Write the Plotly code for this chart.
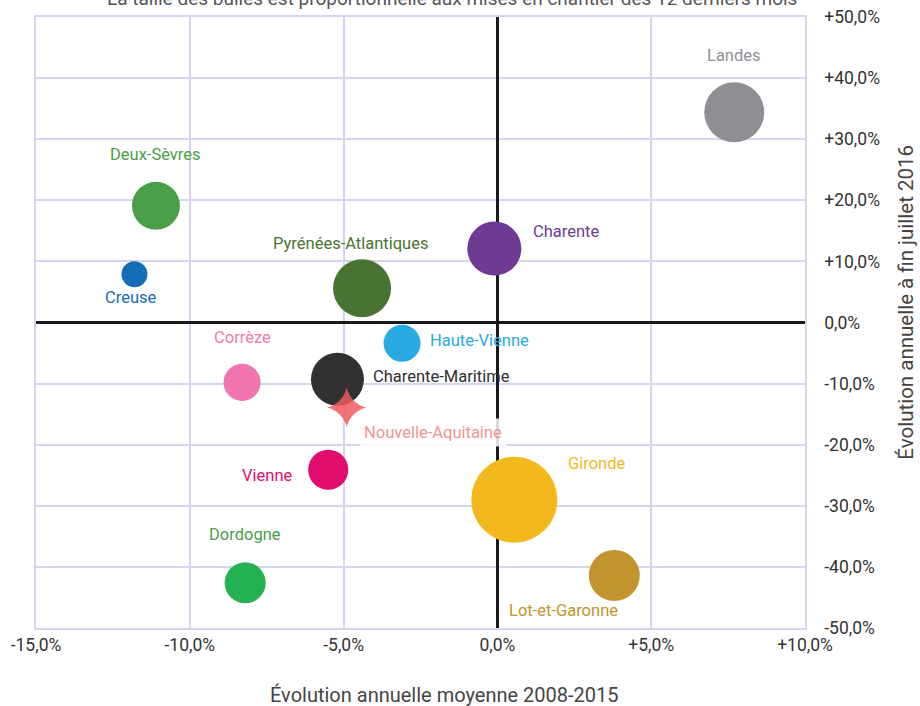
import plotly.graph_objects as go

departements = ["Landes", "Deux-Sèvres", "Creuse", "Pyrénées-Atlantiques", "Charente",
                "Haute-Vienne", "Corrèze", "Charente-Maritime", "Vienne", "Gironde",
                "Dordogne", "Lot-et-Garonne"]
evol_2008_2015 = [7.7, -11.1, -11.8, -4.4, -0.1, -3.1, -8.3, -5.2, -5.5, 0.55, -8.2, 3.8]
evol_juillet_2016 = [34.4, 19.1, 7.9, 5.6, 12.1, -3.4, -9.8, -9.3, -24.1, -29.0, -42.6, -41.4]
mises_en_chantier = [4380, 2800, 820, 4090, 3550, 1670, 1670, 3420, 1950, 9000, 2050, 3170]

region = "Nouvelle-Aquitaine"
region_x = [-4.9]
region_y = [-13.9]

x_ticks = [-15, -10, -5, 0, 5, 10]
x_tick_labels = ["-15,0%", "-10,0%", "-5,0%", "0,0%", "+5,0%", "+10,0%"]
y_ticks = [50, 40, 30, 20, 10, 0, -10, -20, -30, -40, -50]
y_tick_labels = ["+50,0%", "+40,0%", "+30,0%", "+20,0%", "+10,0%", "0,0%",
                 "-10,0%", "-20,0%", "-30,0%", "-40,0%", "-50,0%"]

x_title = "Évolution annuelle moyenne 2008-2015"
y_title = "Évolution annuelle à fin juillet 2016"
subtitle = "La taille des bulles est proportionnelle aux mises en chantier des 12 derniers mois"

# styles
bubble_colors = ["#8e8f93", "#4a9e48", "#146db6", "#487332", "#6e3a94", "#2aaae2",
                 "#f075ae", "#323031", "#e20c6e", "#f2b81d", "#23b151", "#c2942d"]
label_colors = ["#8e8f93", "#4a9e48", "#146db6", "#487332", "#6e3a94", "#2aaae2",
                "#f07aaa", "#323031", "#e20c6e", "#f2b81d", "#4a9e48", "#c2942d"]
label_shift = [(0, 57), (0, 51), (-3, -23), (-11, 45), (72, 17), (77, 3),
               (0, 45), (104, 3), (-61, -6), (83, 36), (0, 48), (-51, -35)]

FONT = "Roboto"
GRID = "#d3d6ee"
# plotly area mode: diameter = sqrt(2 * v / sizeref) -> Gironde ~86 px
sizeref = 2 * max(mises_en_chantier) / 86 ** 2

fig = go.Figure()
fig.add_trace(go.Scatter(
    x=evol_2008_2015, y=evol_juillet_2016, mode="markers",
    marker=dict(size=mises_en_chantier, sizemode="area", sizeref=sizeref,
                color=bubble_colors, opacity=1, line=dict(width=0)),
    text=departements, hoverinfo="text", showlegend=False,
))
fig.add_trace(go.Scatter(
    x=region_x, y=region_y, mode="markers",
    marker=dict(symbol="star-diamond", size=28, color="rgba(240,90,95,0.85)",
                line=dict(width=0)),
    text=[region], hoverinfo="text", showlegend=False,
))

for name, x, y, c, (dx, dy) in zip(departements, evol_2008_2015, evol_juillet_2016,
                                   label_colors, label_shift):
    fig.add_annotation(x=x, y=y, xref="x", yref="y", text=name, showarrow=False,
                       xshift=dx, yshift=dy, font=dict(family=FONT, size=16.5, color=c))

fig.add_annotation(x=region_x[0], y=region_y[0], xref="x", yref="y", text=region,
                   showarrow=False, xshift=86, yshift=-25,
                   font=dict(family=FONT, size=16.5, color="rgba(235,110,110,0.75)"),
                   bgcolor="rgba(255,255,255,0.85)", borderpad=4)

fig.add_annotation(x=0.541, y=1.031, xref="paper", yref="paper", text=subtitle,
                   showarrow=False, yanchor="middle",
                   font=dict(family=FONT, size=19, color="#555555"))
fig.add_annotation(x=0.531, y=-0.1097, xref="paper", yref="paper", text=x_title,
                   showarrow=False, xanchor="center", yanchor="middle",
                   font=dict(family=FONT, size=20, color="#444444"))
fig.add_annotation(x=1.131, y=0.5336, xref="paper", yref="paper", text=y_title,
                   showarrow=False, textangle=-90, xanchor="center", yanchor="middle",
                   font=dict(family=FONT, size=20.5, color="#444444"))

fig.update_layout(
    width=920, height=706,
    margin=dict(l=36, r=115, t=17, b=78, autoexpand=False),
    paper_bgcolor="white", plot_bgcolor="white",
    font=dict(family=FONT, size=18, color="#333333"),
    hovermode="closest",
    xaxis=dict(range=[-15, 10], tickvals=x_ticks, ticktext=x_tick_labels,
               showgrid=True, gridcolor=GRID, gridwidth=1.5,
               zeroline=True, zerolinecolor="#1a1a1a", zerolinewidth=2.5,
               showline=True, linecolor=GRID, linewidth=1.5, mirror=True,
               ticks="", automargin=False, ticklabeloverflow="allow",
               tickfont=dict(family=FONT, size=17.5, color="#333333")),
    yaxis=dict(range=[-50, 50], tickvals=y_ticks, ticktext=y_tick_labels, side="right",
               showgrid=True, gridcolor=GRID, gridwidth=1.5,
               zeroline=True, zerolinecolor="#1a1a1a", zerolinewidth=2.5,
               showline=True, linecolor=GRID, linewidth=1.5, mirror=True,
               ticks="", ticklabelstandoff=14, automargin=False, ticklabeloverflow="allow",
               tickfont=dict(family=FONT, size=17.5, color="#333333")),
)

# remove the browser's default 8px body margin so the figure sits at the page corner
fig.write_html("out.html", config={"displayModeBar": False},
               post_script="document.body.style.margin='0';document.body.style.overflow='hidden';")
